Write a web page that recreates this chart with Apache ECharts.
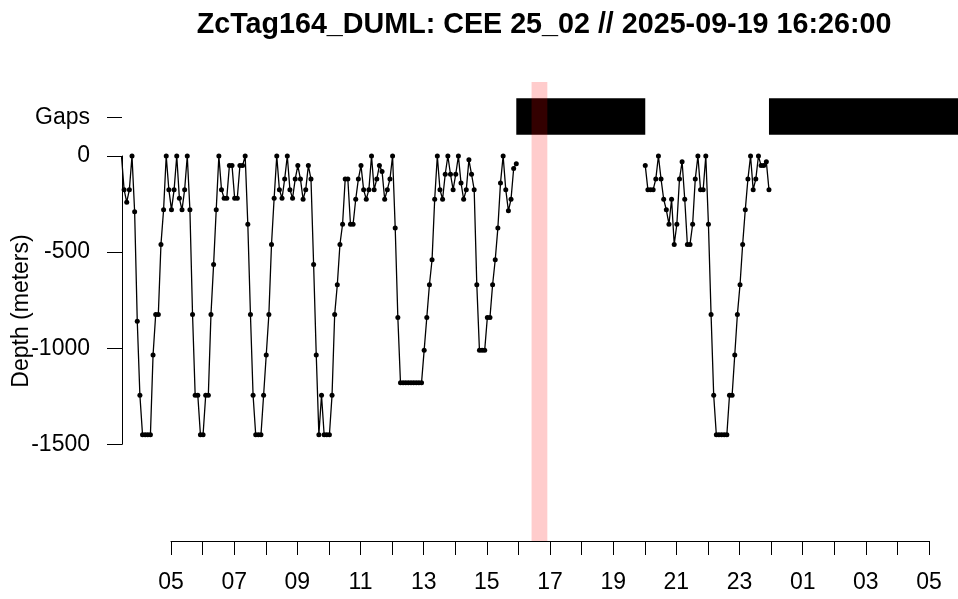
<!DOCTYPE html>
<html>
<head>
<meta charset="utf-8">
<script src="https://cdn.jsdelivr.net/npm/echarts@6/dist/echarts.min.js"></script>
<style>
  html, body { margin: 0; padding: 0; background: #fff; }
  #chart { width: 958px; height: 599px; }
</style>
</head>
<body>
<div id="chart"></div>
<script>
// dive record, 5 min samples, 2025-09-19
const seg1Times = [
  '03:26','03:31','03:36','03:41','03:46','03:51','03:56',
  '04:01','04:06','04:11','04:16','04:21','04:26','04:31','04:36','04:41','04:46','04:51','04:56',
  '05:01','05:06','05:11','05:16','05:21','05:26','05:31','05:36','05:41','05:46','05:51','05:56',
  '06:01','06:06','06:11','06:16','06:21','06:26','06:31','06:36','06:41','06:46','06:51','06:56',
  '07:01','07:06','07:11','07:16','07:21','07:26','07:31','07:36','07:41','07:46','07:51','07:56',
  '08:01','08:06','08:11','08:16','08:21','08:26','08:31','08:36','08:41','08:46','08:51','08:56',
  '09:01','09:06','09:11','09:16','09:21','09:26','09:31','09:36','09:41','09:46','09:51','09:56',
  '10:01','10:06','10:11','10:16','10:21','10:26','10:31','10:36','10:41','10:46','10:51','10:56',
  '11:01','11:06','11:11','11:16','11:21','11:26','11:31','11:36','11:41','11:46','11:51','11:56',
  '12:01','12:06','12:11','12:16','12:21','12:26','12:31','12:36','12:41','12:46','12:51','12:56',
  '13:01','13:06','13:11','13:16','13:21','13:26','13:31','13:36','13:41','13:46','13:51','13:56',
  '14:01','14:06','14:11','14:16','14:21','14:26','14:31','14:36','14:41','14:46','14:51','14:56',
  '15:01','15:06','15:11','15:16','15:21','15:26','15:31','15:36','15:41','15:46','15:51','15:56'
];
const seg1Depths = [
  0, -175, -240, -175, 0, -290, -860,
  -1245, -1450, -1450, -1450, -1450, -1035, -825, -825, -460, -280, 0, -175,
  -280, -175, 0, -220, -280, -175, 0, -280, -825, -1245, -1245, -1450,
  -1450, -1245, -1245, -825, -565, -280, 0, -175, -220, -220, -50, -50,
  -220, -220, -50, -50, 0, -355, -825, -1245, -1450, -1450, -1450, -1245,
  -1035, -825, -460, -220, 0, -175, -220, -120, 0, -175, -220, -120,
  -50, -120, -225, -175, -50, -120, -565, -1035, -1450, -1245, -1450, -1450,
  -1450, -1245, -825, -670, -460, -355, -120, -120, -355, -355, -225, -120,
  -50, -175, -225, -175, 0, -175, -120, -50, -80, -225, -175, -120,
  0, -375, -840, -1180, -1180, -1180, -1180, -1180, -1180, -1180, -1180, -1180,
  -1010, -840, -670, -540, -225, 0, -175, -225, -95, 0, -95, -175,
  -95, 0, -140, -225, -175, -20, -95, -175, -670, -1010, -1010, -1010,
  -840, -840, -670, -540, -375, -140, 0, -175, -285, -225, -65, -40
];
const seg2Times = [
  '20:01','20:06','20:11','20:16','20:21','20:26','20:31','20:36','20:41','20:46','20:51','20:56',
  '21:01','21:06','21:11','21:16','21:21','21:26','21:31','21:36','21:41','21:46','21:51','21:56',
  '22:01','22:06','22:11','22:16','22:21','22:26','22:31','22:36','22:41','22:46','22:51','22:56',
  '23:01','23:06','23:11','23:16','23:21','23:26','23:31','23:36','23:41','23:46','23:51','23:56'
];
const seg2Depths = [
  -50, -175, -175, -175, -120, 0, -120, -225, -280, -355, -225, -460,
  -355, -120, -30, -225, -460, -460, -355, -120, 0, -175, -175, 0,
  -355, -825, -1245, -1450, -1450, -1450, -1450, -1450, -1245, -1245, -1035, -825,
  -670, -460, -280, -120, 0, -175, -120, 0, -50, -50, -30, -175
];
// data gaps and the highlighted time window
const gapStarts = ['2025-09-19 15:56', '2025-09-19 23:56'];
const gapEnds = ['2025-09-19 20:01', '2025-09-20 06:00'];
const markWindow = ['2025-09-19 16:25', '2025-09-19 16:55'];
const depthTicks = [0, -500, -1000, -1500];
const GAPS_ROW = 200;

const FONT = "'Liberation Sans', Arial, sans-serif";

// hours since 2025-09-19 00:00
const toH = s => {
  let day = 0, t = s;
  if (s.length > 5) {
    day = Number(s.slice(8, 10)) - 19;
    t = s.slice(11);
  }
  const [h, m] = t.split(':').map(Number);
  return day * 24 + h + m / 60;
};

const X_MIN = 3.45, X_MAX = 29.918;
const Y_MIN = -2003, Y_MAX = 385;

const lineSeries = (times, depths) => ({
  type: 'line',
  xAxisIndex: 0,
  yAxisIndex: 0,
  data: times.map((t, i) => [toH(t), depths[i]]),
  symbol: 'circle',
  symbolSize: 5,
  showSymbol: true,
  itemStyle: { color: '#000' },
  lineStyle: { color: '#000', width: 1.3 },
  z: 4
});

const chart = echarts.init(document.getElementById('chart'));

chart.setOption({
  animation: false,
  backgroundColor: '#fff',
  title: {
    text: 'ZcTag164_DUML: CEE 25_02 // 2025-09-19 16:26:00',
    left: 539,
    top: 6,
    textAlign: 'center',
    textStyle: { fontSize: 28.7, fontWeight: 'bold', fontFamily: FONT, color: '#000' }
  },
  grid: [
    { left: 122, right: 0, top: 82, bottom: 58, outerBoundsMode: 'none' },
    { left: 122, right: 0, top: 156, bottom: 154.7, outerBoundsMode: 'none' },
    { left: 171, right: 29, top: 82, bottom: 58, outerBoundsMode: 'none' }
  ],
  xAxis: [
    { gridIndex: 0, type: 'value', min: X_MIN, max: X_MAX, show: false },
    { gridIndex: 1, type: 'value', min: 0, max: 1, show: false },
    {
      gridIndex: 2, type: 'value', min: 5, max: 29, interval: 1,
      axisLine: { show: true, onZero: false, lineStyle: { color: '#000', width: 1 } },
      axisTick: { show: true, length: 14, lineStyle: { color: '#000', width: 1 } },
      axisLabel: {
        margin: 30, fontSize: 23, color: '#000', fontFamily: FONT,
        showMinLabel: true, showMaxLabel: true,
        formatter: v => (v % 2 === 1 ? String(v % 24).padStart(2, '0') : '')
      },
      splitLine: { show: false }
    }
  ],
  yAxis: [
    {
      gridIndex: 0, type: 'value', min: Y_MIN, max: Y_MAX,
      axisLine: { show: false },
      splitLine: { show: false },
      axisTick: {
        show: true, length: 15, customValues: [GAPS_ROW, ...depthTicks],
        lineStyle: { color: '#000', width: 1 }
      },
      axisLabel: {
        customValues: [GAPS_ROW, ...depthTicks],
        formatter: v => (v === GAPS_ROW ? 'Gaps' : String(v)),
        margin: 32, fontSize: 23, color: '#000', fontFamily: FONT
      }
    },
    {
      gridIndex: 1, type: 'value', min: -1500, max: 0,
      axisLine: { show: true, lineStyle: { color: '#000', width: 1 } },
      axisTick: { show: false }, axisLabel: { show: false }, splitLine: { show: false }
    },
    { gridIndex: 2, type: 'value', min: 0, max: 1, show: false }
  ],
  graphic: [{
    type: 'text',
    x: 22,
    y: 311,
    rotation: Math.PI / 2,
    style: {
      text: 'Depth (meters)',
      font: `23px ${FONT}`,
      fill: '#000',
      align: 'center',
      verticalAlign: 'middle'
    }
  }],
  series: [
    {
      type: 'custom',
      xAxisIndex: 0,
      yAxisIndex: 0,
      clip: true,
      z: 2,
      data: gapStarts.map((s, i) => [toH(s), toH(gapEnds[i])]),
      encode: { x: [0, 1] },
      renderItem: (params, api) => {
        const p0 = api.coord([api.value(0), 300]);
        const p1 = api.coord([api.value(1), 110]);
        return {
          type: 'rect',
          shape: { x: p0[0], y: p0[1], width: p1[0] - p0[0], height: p1[1] - p0[1] },
          style: { fill: '#000' }
        };
      }
    },
    {
      type: 'custom',
      xAxisIndex: 0,
      yAxisIndex: 0,
      clip: true,
      z: 3,
      data: [[toH(markWindow[0]), toH(markWindow[1])]],
      encode: { x: [0, 1] },
      renderItem: (params, api) => {
        const p0 = api.coord([api.value(0), Y_MAX]);
        const p1 = api.coord([api.value(1), Y_MIN]);
        return {
          type: 'rect',
          shape: { x: p0[0], y: p0[1], width: p1[0] - p0[0], height: p1[1] - p0[1] },
          style: { fill: 'rgba(255,0,0,0.2)' }
        };
      }
    },
    lineSeries(seg1Times, seg1Depths),
    lineSeries(seg2Times, seg2Depths)
  ]
});
</script>
</body>
</html>
